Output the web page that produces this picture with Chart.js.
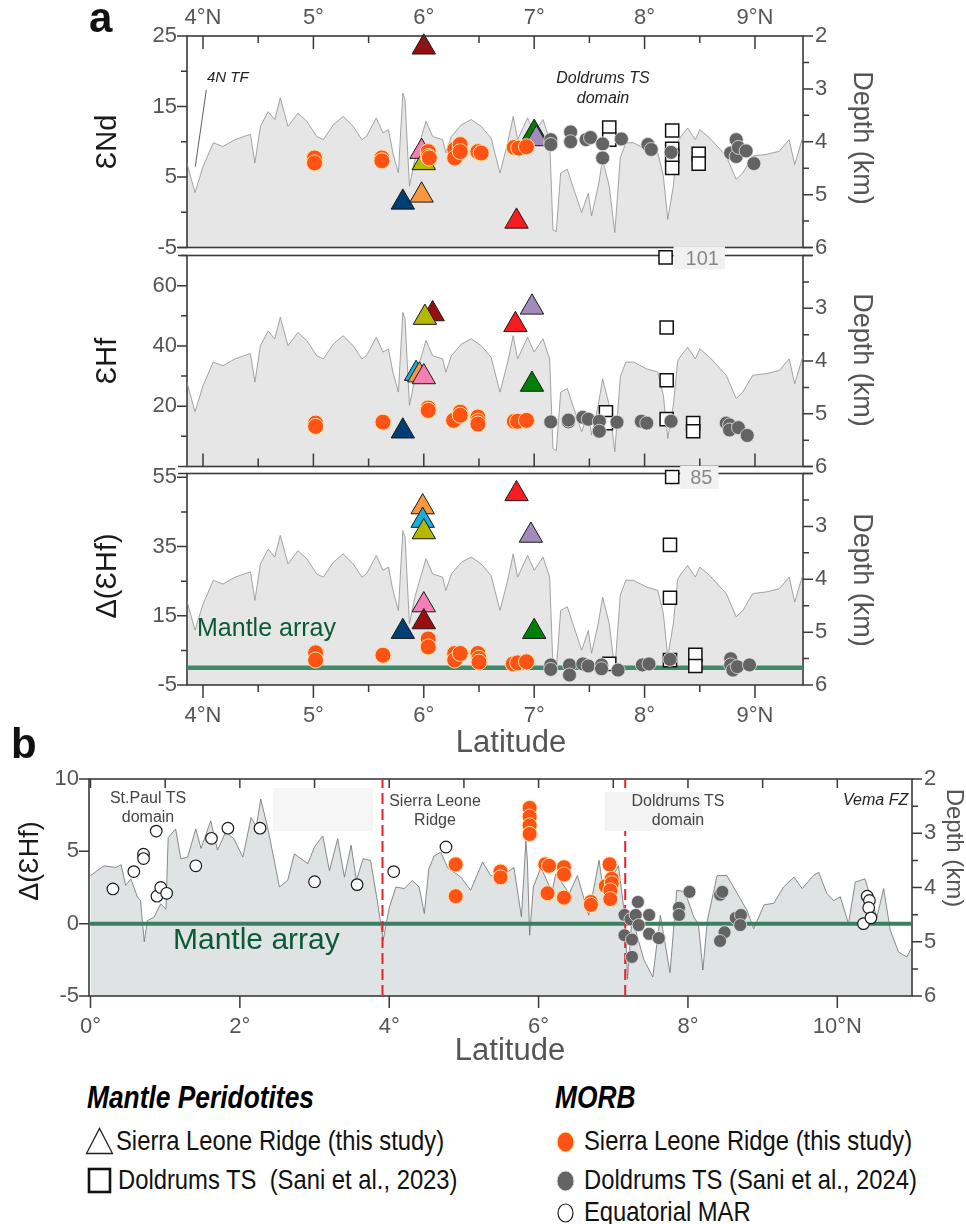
<!DOCTYPE html>
<html><head><meta charset="utf-8">
<script src="https://cdn.jsdelivr.net/npm/chart.js@4.4.1/dist/chart.umd.min.js"></script>
<style>
body{margin:0;background:#fff;}
#wrap{position:relative;width:966px;height:1224px;overflow:hidden;font-family:'Liberation Sans',Arial,sans-serif;color:#222;}
canvas{position:absolute;left:0;}
.t{position:absolute;white-space:nowrap;}
.lg{position:absolute;white-space:nowrap;font-family:'Liberation Sans',Arial,sans-serif;font-size:28px;line-height:34px;color:#111;transform:scaleX(0.85);transform-origin:0 50%;}
.lh{position:absolute;white-space:nowrap;font-family:'Liberation Sans',Arial,sans-serif;font-weight:bold;font-style:italic;font-size:31px;line-height:36px;color:#000;transform:scaleX(0.85);transform-origin:0 50%;}
</style></head><body><div id="wrap">
<canvas id="c1" width="966" height="262" style="top:0px"></canvas>
<canvas id="c2" width="966" height="240" style="top:241px"></canvas>
<canvas id="c3" width="966" height="301" style="top:459px"></canvas>
<canvas id="c4" width="966" height="325" style="top:745px"></canvas>

<div class="t" style="left:89px;top:-6px;font-size:42px;font-weight:bold;color:#111;">a</div>
<div class="t" style="left:11px;top:720px;font-size:42px;font-weight:bold;color:#111;">b</div>

<div class="t" style="left:207px;top:68px;font-size:15px;font-style:italic;color:#222;">4N TF</div>
<div class="t" style="left:543px;top:68px;width:120px;text-align:center;font-size:16px;font-style:italic;line-height:20px;color:#222;">Doldrums TS<br>domain</div>
<div class="t" style="left:197px;top:613px;font-size:25px;color:#0b5a36;">Mantle array</div>

<div class="t" style="left:273px;top:788px;width:100px;height:43px;background:#f6f6f6;"></div>
<div class="t" style="left:605px;top:792px;width:97px;height:39px;background:#f3f3f3;"></div>
<div class="t" style="left:88px;top:788px;width:120px;text-align:center;font-size:16px;line-height:19px;color:#444;">St.Paul TS<br>domain</div>
<div class="t" style="left:375px;top:791px;width:120px;text-align:center;font-size:16px;line-height:19px;color:#444;">Sierra Leone<br>Ridge</div>
<div class="t" style="left:618px;top:791px;width:120px;text-align:center;font-size:16px;line-height:19px;color:#444;">Doldrums TS<br>domain</div>
<div class="t" style="left:843px;top:791px;font-size:16px;font-style:italic;color:#222;">Vema FZ</div>
<div class="t" style="left:173px;top:922px;font-size:30px;color:#0b5a36;">Mantle array</div>

<div class="lh" style="left:87px;top:1080px;">Mantle Peridotites</div>
<svg class="t" style="left:85px;top:1127px" width="30" height="28"><polygon points="1.5,26.5 14.5,1.5 27.5,26.5" fill="#fff" stroke="#222" stroke-width="1.3"/></svg>
<div class="lg" style="left:116px;top:1124px;">Sierra Leone Ridge (this study)</div>
<svg class="t" style="left:87px;top:1167px" width="26" height="27"><rect x="2" y="2" width="21" height="23" fill="#fff" stroke="#111" stroke-width="2.6"/></svg>
<div class="lg" style="left:118px;top:1163px;">Doldrums TS&nbsp; (Sani et al., 2023)</div>

<div class="lh" style="left:555px;top:1080px;">MORB</div>
<svg class="t" style="left:555px;top:1130px" width="22" height="24"><ellipse cx="10.5" cy="12" rx="8.5" ry="10" fill="#ff5316" stroke="#fde3a0" stroke-width="1.2"/></svg>
<div class="lg" style="left:584px;top:1124px;">Sierra Leone Ridge (this study)</div>
<svg class="t" style="left:555px;top:1169px" width="22" height="24"><ellipse cx="10.5" cy="12" rx="8.5" ry="10" fill="#646464" stroke="#ddd" stroke-width="1"/></svg>
<div class="lg" style="left:584px;top:1163px;">Doldrums TS (Sani et al., 2024)</div>
<svg class="t" style="left:556px;top:1202px" width="20" height="22"><ellipse cx="9.5" cy="11" rx="7.5" ry="9" fill="#fff" stroke="#222" stroke-width="1.2"/></svg>
<div class="lg" style="left:584px;top:1195px;">Equatorial MAR</div>
</div>

<script>
// ---------------- DATA ----------------
// Panel a: x axis ticks
const xTickValsA = [4, 5, 6, 7, 8, 9];
const xTickLabsA = ['4°N', '5°', '6°', '7°', '8°', '9°N'];
const xMinorA = [4.5, 5.5, 6.5, 7.5, 8.5];
// Panel b: x axis ticks
const xTickValsB = [0, 2, 4, 6, 8, 10];
const xTickLabsB = ['0°', '2°', '4°', '6°', '8°', '10°N'];
const xOddB = [1, 3, 5, 7, 9];
// y ticks
const ndTicks = [25, 15, 5, -5], ndMinor = [20, 10, 0];
const hfTicks = [60, 40, 20], hfMinor = [70, 50, 30, 10];
const dhfTicksA = [55, 35, 15, -5], dhfMinorA = [45, 25, 5];
const dhfTicksB = [10, 5, 0, -5];
const depthMajor = [2, 3, 4, 5, 6], depthMinor = [2.5, 3.5, 4.5, 5.5];
const depthLabsTop = [2, 3, 4, 5, 6], depthLabsLower = [3, 4, 5, 6];

// Bathymetry profile, panel a (latitude °N, depth km)
const bathyLatA = [3.853,3.928,4.0,4.093,4.18,4.29,4.37,4.43,4.47,4.52,4.59,4.65,4.70,4.77,4.86,4.94,5.03,5.09,5.18,5.27,5.36,5.44,5.48,5.57,5.63,5.68,5.72,5.77,5.81,5.83,5.87,5.92,6.02,6.08,6.17,6.20,6.25,6.34,6.43,6.52,6.61,6.69,6.76,6.81,6.85,6.94,7.00,7.08,7.14,7.17,7.20,7.24,7.30,7.35,7.43,7.49,7.52,7.58,7.62,7.68,7.73,7.78,7.83,7.90,8.02,8.12,8.17,8.21,8.26,8.30,8.33,8.39,8.46,8.50,8.59,8.74,8.83,8.89,8.98,9.10,9.22,9.31,9.36,9.435];
const bathyDepthA = [4.40,4.96,4.47,4.02,4.09,3.96,3.90,3.86,4.40,3.71,3.43,3.58,3.17,3.71,3.46,3.61,3.90,3.96,3.68,3.52,3.71,3.96,3.90,3.55,3.83,3.77,4.21,4.59,3.08,3.20,4.84,4.33,3.61,3.90,3.96,4.21,3.90,3.68,3.58,3.71,3.93,4.59,4.02,3.52,3.96,3.55,3.83,3.58,3.96,5.66,5.70,4.59,4.52,4.84,5.34,4.97,5.40,4.84,4.34,4.84,5.72,4.30,4.02,4.02,4.15,4.21,4.65,5.47,4.84,4.00,3.90,3.74,3.96,3.77,3.93,4.27,4.71,4.59,4.27,4.24,4.18,3.96,4.43,3.90];
// Bathymetry profile, panel b
const bathyLatB = [0.0,0.18,0.34,0.41,0.47,0.54,0.63,0.67,0.72,0.76,0.85,0.94,1.01,1.04,1.14,1.21,1.30,1.41,1.48,1.61,1.70,1.81,1.92,2.04,2.15,2.22,2.28,2.37,2.46,2.53,2.64,2.73,2.91,3.00,3.11,3.20,3.31,3.40,3.49,3.56,3.65,3.75,3.84,3.92,4.00,4.09,4.20,4.31,4.40,4.47,4.53,4.60,4.69,4.78,4.96,5.09,5.25,5.36,5.49,5.67,5.77,5.83,5.85,5.88,5.93,6.03,6.18,6.23,6.41,6.52,6.67,6.81,6.87,7.07,7.16,7.19,7.25,7.41,7.53,7.63,7.76,7.85,7.96,8.08,8.14,8.20,8.26,8.39,8.52,8.66,8.79,8.88,9.02,9.15,9.28,9.42,9.53,9.68,9.75,9.86,9.95,10.04,10.15,10.24,10.37,10.53,10.62,10.71,10.82,10.93,11.0];
const bathyDepthB = [3.78,3.60,3.63,3.58,3.96,3.84,4.18,4.24,5.00,4.61,4.55,4.30,4.40,3.08,2.92,3.47,3.44,2.92,3.28,2.77,3.31,2.98,3.10,3.44,2.71,2.88,2.37,2.88,3.50,3.99,3.87,3.38,3.56,3.25,3.05,3.69,3.10,3.81,3.22,3.87,3.47,3.50,4.24,4.97,4.37,3.99,4.02,3.87,3.99,4.48,3.66,3.42,3.35,3.63,3.81,4.05,3.53,3.78,3.81,3.63,4.54,3.14,3.50,4.88,3.99,3.63,4.08,3.75,4.11,3.78,4.51,3.50,4.08,3.60,4.60,5.69,4.55,5.33,5.65,4.51,5.57,4.05,4.08,4.55,4.67,5.52,4.61,3.78,3.78,4.11,4.42,4.76,4.32,4.29,3.99,3.81,4.02,3.78,3.72,4.11,4.24,4.17,4.67,3.90,3.84,4.55,4.02,4.79,5.19,5.28,5.10];

// 4N TF pointer (lat, depth)
const tfLat = [3.93, 4.03], tfDepth = [4.47, 3.02];
// Domain boundaries in panel b (latitude)
const boundaryLat = [3.91, 7.16];

// Mantle peridotites, Sierra Leone Ridge (this study): sample ids
const periIds = ['S1','S2','S3','S4','S5','S6','S7','S8','S9'];
// εNd
const periNdId  = ['S5','S4','S1','S2','S3','S6','S7','S8'];
const periNdLat = [5.81,5.98,6.00,5.98,6.00,6.84,7.00,7.02];
const periNd    = [1.4,2.4,23.4,8.6,7.0,-1.3,11.3,10.4];
// εHf
const periHfId  = ['S1','S3','S9','S4','S2','S5','S6','S8','S7'];
const periHfLat = [6.08,6.01,5.93,5.96,6.00,5.81,6.83,6.98,6.98];
const periHf    = [50.6,49.4,30.8,30.3,29.7,11.7,47.0,52.8,27.2];
// Δ(εHf)
const periDHfId  = ['S4','S9','S3','S2','S1','S5','S6','S8','S7'];
const periDHfLat = [5.99,5.99,6.00,6.00,6.00,5.81,6.84,6.97,7.00];
const periDHf    = [46.4,42.5,39.2,18.1,13.2,10.4,50.2,38.2,10.4];

// MORB, Sierra Leone Ridge (this study)
const slrNdLat = [5.01,5.01,5.62,5.62,6.04,6.04,6.05,6.28,6.28,6.33,6.33,6.49,6.52,6.82,6.86,6.93];
const slrNd    = [7.7,7.0,7.7,7.3,8.6,7.9,7.7,8.9,7.7,9.6,8.6,8.6,8.4,9.2,9.1,9.3];
const slrHfLat = [5.02,5.02,5.63,6.04,6.04,6.27,6.33,6.33,6.49,6.49,6.49,6.82,6.85,6.93];
const slrHf    = [14.4,13.3,14.7,19.4,18.6,15.3,18.0,17.0,16.4,15.0,14.1,15.0,15.0,15.3];
const slrDHfLat = [5.02,5.02,5.63,6.04,6.04,6.28,6.28,6.33,6.49,6.50,6.50,6.81,6.85,6.93];
const slrDHf    = [4.3,2.2,3.6,8.3,6.0,4.1,2.2,4.1,4.1,2.7,1.6,1.1,1.4,1.7];
const slrBLat = [4.89,4.89,5.49,5.49,5.88,5.88,5.88,5.88,6.09,6.14,6.34,6.34,6.12,6.34,6.70,6.70,6.95,6.90,6.98,6.98,6.96,6.96];
const slrBDHf = [4.1,1.9,3.6,3.2,8.0,7.4,6.8,6.2,4.1,4.0,3.9,3.4,2.1,1.8,1.5,1.3,4.1,2.6,3.1,2.8,2.3,1.7];

// MORB, Doldrums TS (Sani et al., 2024)
const dolNdLat = [7.15,7.15,7.33,7.33,7.47,7.51,7.62,7.62,7.79,8.03,8.06,8.24,8.78,8.83,8.83,8.85,8.92,8.99];
const dolNd    = [10.3,9.6,11.4,10.0,10.3,10.6,9.7,7.7,10.4,9.6,8.9,8.5,8.4,10.3,7.9,9.2,8.7,6.9];
const dolHfLat = [7.15,7.31,7.31,7.44,7.49,7.59,7.59,7.75,7.97,8.02,8.24,8.74,8.77,8.77,8.85,8.93];
const dolHf    = [14.8,14.8,15.4,16.3,15.7,15.0,11.7,14.7,15.0,14.4,15.0,14.4,13.8,12.1,12.9,10.3];
const dolDHfLat = [7.15,7.15,7.32,7.32,7.44,7.49,7.61,7.61,7.76,7.98,8.04,8.23,8.78,8.78,8.80,8.84,8.95];
const dolDHf    = [0.8,-0.5,0.8,-2.1,1.1,0.5,0.8,-0.3,-0.7,0.8,1.1,2.4,2.6,0.8,-0.7,0.3,0.8];
const dolBLat = [7.15,7.15,7.33,7.23,7.30,7.34,7.25,7.25,7.48,7.48,7.61,7.88,7.88,8.02,8.43,8.46,8.49,8.43,8.64,8.71,8.70];
const dolBDHf = [0.6,-0.8,1.5,0.3,0.6,-0.1,-1.1,-2.3,0.6,-0.7,-1.0,1.1,0.6,2.2,2.0,2.2,-0.6,-1.2,0.4,0.6,-0.1];

// Mantle peridotites, Doldrums TS (Sani et al., 2023)
const dpNdLat = [7.68,7.68,8.25,8.25,8.25,8.25,8.49,8.49];
const dpNd    = [12.0,10.3,11.6,9.0,8.0,6.3,8.3,6.9];
const dpHfLat = [7.65,7.65,8.19,8.20,8.20,8.20,8.44,8.44];
const dpHf    = [18.0,14.4,101,46.1,28.6,15.7,14.4,11.7];
const dpDHfLat = [7.68,8.25,8.23,8.23,8.23,8.46,8.46];
const dpDHf    = [1.1,85,35.5,20.2,2.2,3.7,0.5];

// MORB, Equatorial MAR
const eqLat = [0.30,0.58,0.71,0.71,0.88,0.89,0.94,1.02,1.41,1.62,1.84,2.27,3.00,3.57,4.06,4.76,10.35,10.40,10.43,10.42,10.45];
const eqDHf = [2.4,3.6,4.8,4.5,6.4,1.9,2.5,2.1,4.0,5.9,6.6,6.6,2.9,2.7,3.6,5.3,0.0,1.9,1.6,1.1,0.4];

// ---------------- STYLES ----------------
const F = "'Liberation Sans', Arial, sans-serif";
const triColor = {S1:'#9b0e10', S2:'#f47fb4', S3:'#b4b800', S4:'#f7973f', S5:'#003f73', S6:'#f81c20', S7:'#037f08', S8:'#a28bba', S9:'#1aaedf'};

function pts(xs, ys, cap) { return xs.map((x, i) => ({x: x, y: cap != null ? Math.min(ys[i], cap) : ys[i]})); }

function orangeSet(data, r) { return {type:'scatter', data, order:0, clip:false, pointStyle:'circle', pointRadius:r, backgroundColor:'#ff5316', borderColor:'#fde3a0', borderWidth:1}; }
function greySet(data, r) { return {type:'scatter', data, order:0, clip:false, pointStyle:'circle', pointRadius:r, backgroundColor:'#636363', borderColor:'#e4e4e4', borderWidth:0.8}; }
function openSet(data, r) { return {type:'scatter', data, order:0, clip:false, pointStyle:'circle', pointRadius:r, backgroundColor:'#ffffff', borderColor:'#1a1a1a', borderWidth:1.2}; }
function squareSet(data) { return {type:'scatter', data, order:0, clip:false, pointStyle:'rect', pointRadius:9.3, backgroundColor:'#ffffff', borderColor:'#111', borderWidth:1.5}; }
function triSet(data, ids) { return {type:'scatter', data, order:0, clip:false, pointStyle:'triangle', pointRadius:13.5, backgroundColor: ids.map(id => triColor[id]), borderColor:'#1a1a1a', borderWidth:1}; }
function bathySet(xs, ys, fillC, lineC) { return {type:'line', data: pts(xs, ys), yAxisID:'yR', showLine:true, borderColor:lineC, borderWidth:0.8, backgroundColor:fillC, fill:{value:6}, pointRadius:0, tension:0, order:5}; }
function hLine(x0, x1, y, color, w) { return {type:'line', data:[{x:x0,y:y},{x:x1,y:y}], showLine:true, borderColor:color, borderWidth:w, pointRadius:0, fill:false, order:2}; }

const framePlugin = {
  id: 'frame',
  beforeDatasetsDraw(chart, args, o) {
    const ctx = chart.ctx, a = chart.chartArea;
    ctx.save();
    ctx.strokeStyle = '#3a3a3a'; ctx.lineWidth = 1.6;
    ctx.strokeRect(a.left, a.top, a.right - a.left, a.bottom - a.top);
    ctx.beginPath();
    const e = 9;
    if (o.breakTop) { ctx.moveTo(a.left - e, a.top); ctx.lineTo(a.left, a.top); ctx.moveTo(a.right, a.top); ctx.lineTo(a.right + e, a.top); }
    if (o.breakBottom) { ctx.moveTo(a.left - e, a.bottom); ctx.lineTo(a.left, a.bottom); ctx.moveTo(a.right, a.bottom); ctx.lineTo(a.right + e, a.bottom); }
    ctx.stroke();
    ctx.restore();
  },
  afterDatasetsDraw(chart, args, o) {
    const ctx = chart.ctx;
    (o.flags || []).forEach(f => {
      const el = chart.getDatasetMeta(f.ds).data[f.idx];
      ctx.save();
      ctx.font = '20px ' + F;
      const w = ctx.measureText(f.text).width;
      ctx.fillStyle = '#f1f1f1';
      ctx.fillRect(el.x + 8, el.y - 11, (f.dx - 8) + w + 6, 23);
      ctx.fillStyle = '#888'; ctx.textAlign = 'left'; ctx.textBaseline = 'middle';
      ctx.fillText(f.text, el.x + f.dx, el.y + 2);
      ctx.restore();
    });
  },
  afterDraw(chart, args, o) {
    const ctx = chart.ctx, a = chart.chartArea;
    ctx.save();
    ctx.strokeStyle = '#3a3a3a'; ctx.lineWidth = 1.5;
    (o.ticks || []).forEach(t => {
      const s = chart.scales[t.s];
      ctx.beginPath();
      t.v.forEach(v => {
        const p = s.getPixelForValue(v);
        if (t.edge === 'top' || t.edge === 'bottom') {
          const y0 = t.edge === 'top' ? a.top : a.bottom;
          ctx.moveTo(p, y0); ctx.lineTo(p, y0 + t.dir * t.len);
        } else {
          const x0 = t.edge === 'left' ? a.left : a.right;
          ctx.moveTo(x0, p); ctx.lineTo(x0 + t.dir * t.len, p);
        }
      });
      ctx.stroke();
    });
    (o.titles || []).forEach(t => {
      ctx.save();
      ctx.translate(t.x, t.y);
      ctx.rotate(t.rot * Math.PI / 180);
      ctx.font = t.size + 'px ' + F;
      ctx.fillStyle = t.color;
      ctx.textAlign = 'center'; ctx.textBaseline = 'middle';
      ctx.fillText(t.text, 0, 0);
      ctx.restore();
    });
    ctx.restore();
  }
};

function makeChart(id, p) {
  const tickFont = {family: F, size: 22};
  return new Chart(document.getElementById(id), {
    type: 'scatter',
    data: {datasets: p.datasets},
    options: {
      responsive: false, animation: false, events: [],
      layout: {padding: {top: p.padTop, bottom: p.padBottom, left: 0, right: 0}},
      plugins: {legend: {display: false}, tooltip: {enabled: false}, filler: {drawTime: 'beforeDraw'}, frame: p.frame},
      scales: {
        x: {type: 'linear', min: p.xMin, max: p.xMax, position: p.xPos || 'bottom', display: !!p.xLabs,
          afterFit: s => { s.height = p.xH || 0; s.paddingLeft = 0; s.paddingRight = 0; },
          afterBuildTicks: s => { s.ticks = p.xTicks.map(v => ({value: v})); },
          ticks: {autoSkip: false, maxRotation: 0, minRotation: 0, font: tickFont, color: '#555', padding: p.xPad || 0,
            callback: (v, i) => p.xLabs ? p.xLabs[i] : ''},
          grid: {display: false, drawTicks: false}, border: {display: false}},
        y: {type: 'linear', min: p.yMin, max: p.yMax, position: 'left',
          afterFit: s => { s.width = p.yW; s.paddingTop = 0; s.paddingBottom = 0; },
          afterBuildTicks: s => { s.ticks = p.yTicks.map(v => ({value: v})); },
          ticks: {font: tickFont, color: '#555', padding: 10},
          grid: {display: false, drawTicks: false}, border: {display: false}},
        yR: {type: 'linear', axis: 'y', min: 2, max: 6, reverse: true, position: 'right',
          afterFit: s => { s.width = p.yRW; s.paddingTop = 0; s.paddingBottom = 0; },
          afterBuildTicks: s => { s.ticks = p.depthLabs.map(v => ({value: v})); },
          ticks: {font: tickFont, color: '#555', padding: 12},
          grid: {display: false, drawTicks: false}, border: {display: false}}
      }
    },
    plugins: [framePlugin]
  });
}

const XA0 = 3.855, XA1 = 9.435;
function yTickSpec(major, minor) {
  return [
    {s: 'y', edge: 'left', dir: -1, len: 10, v: major},
    {s: 'y', edge: 'left', dir: -1, len: 6, v: minor},
    {s: 'yR', edge: 'right', dir: 1, len: 10, v: depthMajor},
    {s: 'yR', edge: 'right', dir: 1, len: 6, v: depthMinor}
  ];
}

// Panel a1: εNd
makeChart('c1', {
  xMin: XA0, xMax: XA1, xPos: 'top', xH: 36, xPad: 5, xTicks: xTickValsA, xLabs: xTickLabsA,
  yMin: -5, yMax: 25, yTicks: ndTicks, yW: 187, yRW: 163, depthLabs: depthLabsTop,
  padTop: 0, padBottom: 14,
  datasets: [
    orangeSet(pts(slrNdLat, slrNd), 8),
    greySet(pts(dolNdLat, dolNd), 7),
    triSet(pts(periNdLat, periNd), periNdId),
    squareSet(pts(dpNdLat, dpNd)),
    {type: 'line', data: pts(tfLat, tfDepth), yAxisID: 'yR', showLine: true, borderColor: '#333', borderWidth: 0.8, pointRadius: 0, fill: false, order: 2},
    bathySet(bathyLatA, bathyDepthA, '#e6e6e6', '#8e8e8e')
  ],
  frame: {
    breakBottom: true,
    ticks: yTickSpec(ndTicks, ndMinor).concat([
      {s: 'x', edge: 'top', dir: 1, len: 13, v: xTickValsA},
      {s: 'x', edge: 'top', dir: 1, len: 7, v: xMinorA}
    ]),
    titles: [
      {text: 'ƐNd', x: 108, y: 142, rot: -90, size: 29, color: '#1a1a1a'},
      {text: 'Depth (km)', x: 861, y: 138, rot: 90, size: 27, color: '#555'}
    ]
  }
});

// Panel a2: εHf
makeChart('c2', {
  xMin: XA0, xMax: XA1, xTicks: xTickValsA,
  yMin: 0, yMax: 70, yTicks: hfTicks, yW: 187, yRW: 163, depthLabs: depthLabsLower,
  padTop: 14, padBottom: 14,
  datasets: [
    orangeSet(pts(slrHfLat, slrHf), 8),
    greySet(pts(dolHfLat, dolHf), 7),
    triSet(pts(periHfLat, periHf), periHfId),
    squareSet(pts(dpHfLat, dpHf, 69.4)),
    bathySet(bathyLatA, bathyDepthA, '#e6e6e6', '#8e8e8e')
  ],
  frame: {
    breakTop: true, breakBottom: true,
    flags: [{ds: 3, idx: dpHf.indexOf(101), text: '101', dx: 20}],
    ticks: yTickSpec(hfTicks, hfMinor).concat([
      {s: 'x', edge: 'bottom', dir: -1, len: 13, v: xTickValsA},
      {s: 'x', edge: 'bottom', dir: -1, len: 8, v: xMinorA}
    ]),
    titles: [
      {text: 'ƐHf', x: 108, y: 120, rot: -90, size: 29, color: '#1a1a1a'},
      {text: 'Depth (km)', x: 861, y: 119, rot: 90, size: 27, color: '#555'}
    ]
  }
});

// Panel a3: Δ(εHf)
makeChart('c3', {
  xMin: XA0, xMax: XA1, xPos: 'bottom', xH: 75, xPad: 18, xTicks: xTickValsA, xLabs: xTickLabsA,
  yMin: -5, yMax: 56.1, yTicks: dhfTicksA, yW: 187, yRW: 163, depthLabs: depthLabsLower,
  padTop: 14, padBottom: 0,
  datasets: [
    orangeSet(pts(slrDHfLat, slrDHf), 8),
    greySet(pts(dolDHfLat, dolDHf), 7),
    triSet(pts(periDHfLat, periDHf), periDHfId),
    squareSet(pts(dpDHfLat, dpDHf, 55.1)),
    hLine(XA0, XA1, 0, '#3f8a68', 4.5),
    bathySet(bathyLatA, bathyDepthA, '#e6e6e6', '#8e8e8e')
  ],
  frame: {
    breakTop: true,
    flags: [{ds: 3, idx: dpDHf.indexOf(85), text: '85', dx: 18}],
    ticks: yTickSpec(dhfTicksA, dhfMinorA).concat([
      {s: 'x', edge: 'bottom', dir: 1, len: 13, v: xTickValsA},
      {s: 'x', edge: 'bottom', dir: 1, len: 7, v: xMinorA}
    ]),
    titles: [
      {text: 'Δ(ƐHf)', x: 108, y: 117, rot: -90, size: 29, color: '#1a1a1a'},
      {text: 'Depth (km)', x: 861, y: 121, rot: 90, size: 27, color: '#555'},
      {text: 'Latitude', x: 511, y: 284, rot: 0, size: 31, color: '#555'}
    ]
  }
});

// Panel b: Δ(εHf) 0–11°N
makeChart('c4', {
  xMin: -0.02, xMax: 11.0, xPos: 'bottom', xH: 74, xPad: 18, xTicks: xTickValsB, xLabs: xTickLabsB,
  yMin: -5, yMax: 10, yTicks: dhfTicksB, yW: 89, yRW: 54, depthLabs: depthLabsTop,
  padTop: 34, padBottom: 0,
  datasets: [
    orangeSet(pts(slrBLat, slrBDHf), 7.5),
    greySet(pts(dolBLat, dolBDHf), 6.5),
    openSet(pts(eqLat, eqDHf), 5.8),
    {type: 'line', data: [{x: boundaryLat[0], y: -5}, {x: boundaryLat[0], y: 10}], showLine: true, borderColor: '#e8212b', borderWidth: 2, borderDash: [11, 5], pointRadius: 0, fill: false, order: 1},
    {type: 'line', data: [{x: boundaryLat[1], y: -5}, {x: boundaryLat[1], y: 10}], showLine: true, borderColor: '#e8212b', borderWidth: 2, borderDash: [11, 5], pointRadius: 0, fill: false, order: 1},
    hLine(-0.02, 11.0, 0, '#3b7f60', 4),
    bathySet(bathyLatB, bathyDepthB, '#dfe3e3', '#6e6e6e')
  ],
  frame: {
    ticks: [
      {s: 'y', edge: 'left', dir: -1, len: 10, v: dhfTicksB},
      {s: 'yR', edge: 'right', dir: 1, len: 10, v: depthMajor},
      {s: 'yR', edge: 'right', dir: 1, len: 6, v: depthMinor},
      {s: 'x', edge: 'bottom', dir: 1, len: 12, v: xTickValsB},
      {s: 'x', edge: 'top', dir: 1, len: 9, v: xTickValsB.concat(xOddB)}
    ],
    titles: [
      {text: 'Δ(ƐHf)', x: 31, y: 116, rot: -90, size: 27, color: '#1a1a1a'},
      {text: 'Depth (km)', x: 954, y: 103, rot: 90, size: 24, color: '#555'},
      {text: 'Latitude', x: 510, y: 306, rot: 0, size: 31, color: '#555'}
    ]
  }
});
</script>
</body></html>
